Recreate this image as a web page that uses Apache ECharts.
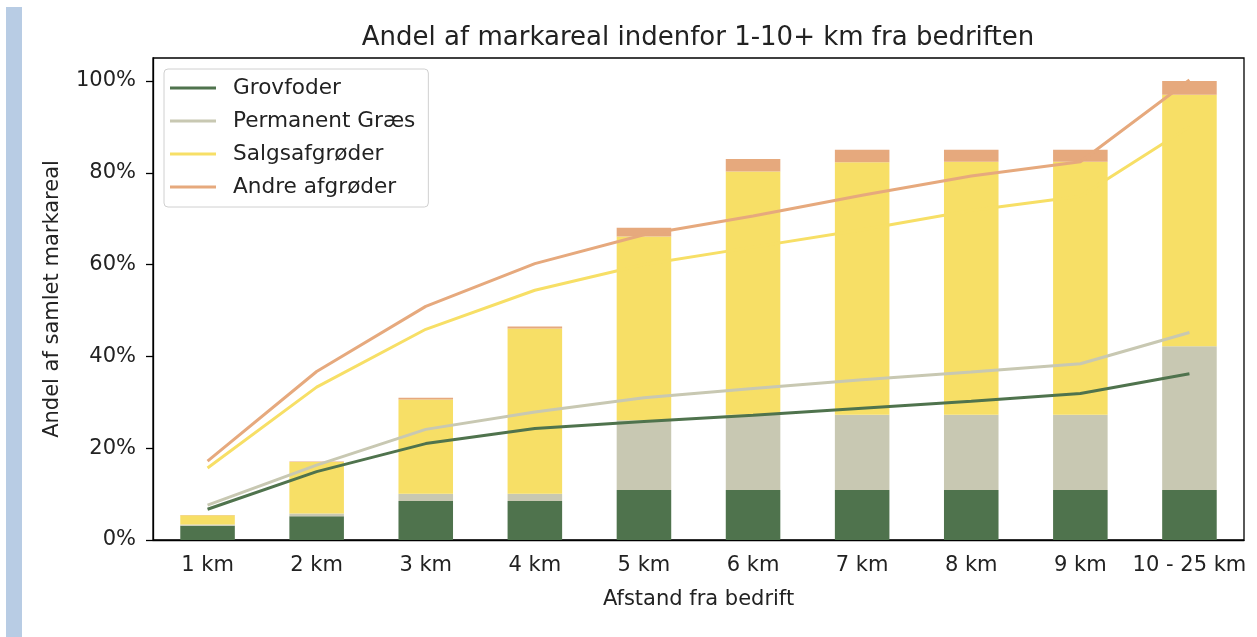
<!DOCTYPE html>
<html>
<head>
<meta charset="utf-8">
<script src="https://cdn.jsdelivr.net/npm/echarts@6/dist/echarts.min.js"></script>
<style>
  html, body { margin: 0; padding: 0; background: #fff; }
  #chart { width: 1257px; height: 637px; }
</style>
</head>
<body>
<div id="chart"></div>
<script>
// kategorier
const categories = ['1 km', '2 km', '3 km', '4 km', '5 km', '6 km', '7 km', '8 km', '9 km', '10 - 25 km']
const names = ['Grovfoder', 'Permanent Græs', 'Salgsafgrøder', 'Andre afgrøder']

// stablede søjler (andel i %)
const barGrovfoder = [3.1, 5.2, 8.5, 8.5, 10.9, 10.9, 10.9, 10.9, 10.9, 10.9]
const barGraes = [0.3, 0.6, 1.6, 1.6, 15.2, 16.4, 16.4, 16.4, 16.4, 31.3]
const barSalg = [2.0, 11.2, 20.5, 36.0, 40.0, 53.0, 55.0, 55.1, 55.1, 54.8]
const barAndre = [0.05, 0.1, 0.4, 0.4, 1.9, 2.7, 2.7, 2.6, 2.6, 3.0]

// linjer (kumuleret %)
const lineGrovfoder = [6.7, 14.9, 21.0, 24.3, 25.8, 27.2, 28.7, 30.2, 31.9, 36.2]
const lineGraes = [7.6, 16.3, 24.1, 27.9, 31.0, 33.0, 34.9, 36.6, 38.4, 45.2]
const lineSalg = [15.7, 33.3, 45.9, 54.4, 60.0, 63.8, 67.6, 71.8, 74.9, 90.0]
const lineAndre = [17.2, 36.7, 50.9, 60.2, 66.5, 70.6, 75.1, 79.3, 82.4, 100.2]

const yTicks = [0, 20, 40, 60, 80, 100]

const colors = ['#4f734d', '#c8c8b2', '#f7df66', '#e6a97d']
const textColor = '#222'
const font = 'DejaVu Sans'

const barData = [barGrovfoder, barGraes, barSalg, barAndre]
const lineData = [lineGrovfoder, lineGraes, lineSalg, lineAndre]

var chart = echarts.init(document.getElementById('chart'))

var series = []
barData.forEach(function(d, i) {
  series.push({
    name: names[i],
    type: 'bar',
    stack: 'andel',
    barWidth: '50%',
    itemStyle: { color: colors[i] },
    data: d,
    z: 2
  })
})
lineData.forEach(function(d, i) {
  series.push({
    name: names[i],
    type: 'line',
    showSymbol: false,
    symbol: 'none',
    lineStyle: { color: colors[i], width: 3 },
    itemStyle: { color: colors[i] },
    data: d,
    z: 5
  })
})

var option = {
  animation: false,
  backgroundColor: '#fff',
  textStyle: { fontFamily: font },
  title: {
    text: 'Andel af markareal indenfor 1-10+ km fra bedriften',
    left: 698,
    top: 25,
    padding: 0,
    textAlign: 'center',
    textStyle: { fontFamily: font, fontSize: 26, fontWeight: 'normal', color: textColor }
  },
  graphic: [
    { type: 'rect', shape: { x: 6, y: 7, width: 16, height: 640 }, style: { fill: '#b8cce4' } }
  ],
  legend: {
    orient: 'vertical',
    left: 164,
    top: 69,
    padding: [8, 13, 9, 6],
    itemGap: 11,
    itemWidth: 46,
    itemHeight: 3,
    icon: 'rect',
    backgroundColor: 'rgba(255,255,255,0.85)',
    borderColor: '#d0d0d0',
    borderWidth: 1,
    borderRadius: 4,
    data: names,
    textStyle: { fontFamily: font, fontSize: 21.6, color: textColor, padding: [0, 0, 0, 12] }
  },
  grid: {
    left: 153,
    right: 13,
    top: 58,
    bottom: 97,
    show: true,
    borderColor: '#000',
    borderWidth: 1.3,
    backgroundColor: 'transparent'
  },
  xAxis: {
    type: 'category',
    data: categories,
    name: 'Afstand fra bedrift',
    nameLocation: 'middle',
    nameGap: 49,
    nameTextStyle: { fontFamily: font, fontSize: 21, color: textColor },
    axisLine: { lineStyle: { color: '#000', width: 1.3 } },
    axisTick: { alignWithLabel: true, length: 7, lineStyle: { color: '#000', width: 1.3 } },
    axisLabel: { fontFamily: font, fontSize: 21, color: textColor, margin: 15, interval: 0 }
  },
  yAxis: {
    type: 'value',
    min: 0,
    max: 105,
    interval: 20,
    name: 'Andel af samlet markareal',
    nameLocation: 'middle',
    nameGap: 90,
    nameTextStyle: { fontFamily: font, fontSize: 21, color: textColor },
    splitLine: { show: false },
    axisLine: { show: true, lineStyle: { color: '#000', width: 1.3 } },
    axisTick: { show: true, length: 7, customValues: yTicks, lineStyle: { color: '#000', width: 1.3 } },
    axisLabel: {
      fontFamily: font, fontSize: 21, color: textColor, margin: 17,
      customValues: yTicks,
      formatter: '{value}%'
    }
  },
  series: series
}

option && chart.setOption(option)
</script>
</body>
</html>
